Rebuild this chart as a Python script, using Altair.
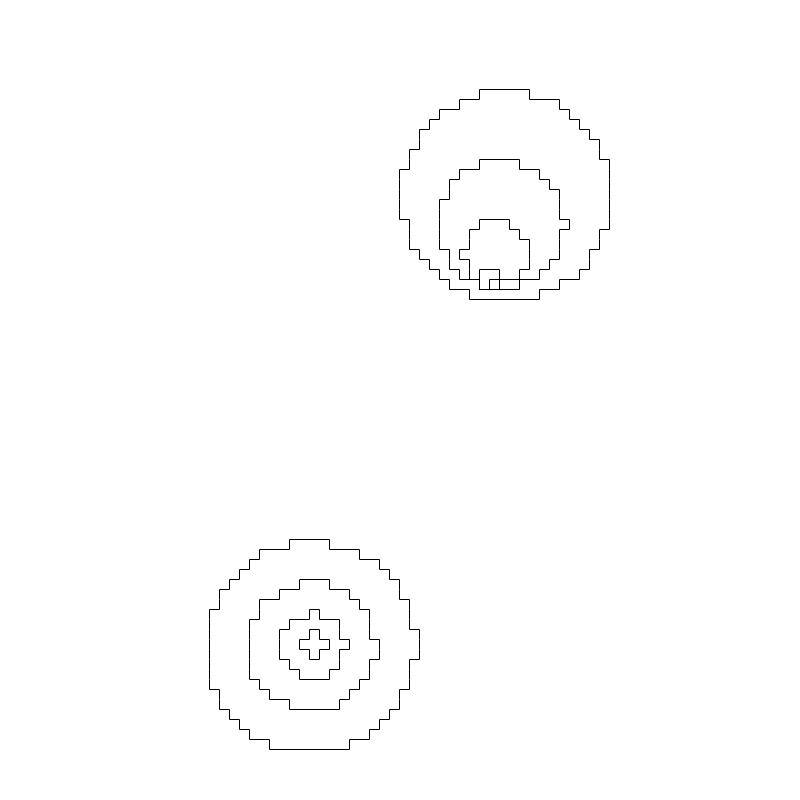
import altair as alt
import pandas as pd

# Contour regions on an 80 x 80 cell grid: for each contour, first row and
# the left / right cell edges of every row (rows run downward).
contour_names = ["top_1", "top_2", "top_3", "top_4",
                 "bottom_1", "bottom_2", "bottom_3", "bottom_4"]

top_1_row0 = 9
top_1_left = [48, 46, 44, 43, 42, 42, 41, 41, 40, 40, 40, 40, 40, 41, 41, 41, 42, 43, 44, 45, 47]
top_1_right = [53, 56, 57, 58, 59, 60, 60, 61, 61, 61, 61, 61, 61, 61, 60, 60, 59, 59, 58, 56, 54]

top_2_row0 = 16
top_2_left = [48, 46, 45, 45, 44, 44, 44, 44, 44, 45, 45, 46, 48]
top_2_right = [52, 54, 55, 56, 56, 56, 57, 56, 56, 56, 55, 54, 52]

top_3_row0 = 22
top_3_left = [48, 47, 47, 46, 47, 47, 48]
top_3_right = [51, 52, 53, 53, 53, 52, 49]

top_4_row0 = 27
top_4_left = [48, 48]
top_4_right = [50, 50]

bottom_1_row0 = 54
bottom_1_left = [29, 26, 25, 24, 23, 22, 22, 21, 21, 21, 21, 21, 21, 21, 21, 22, 22, 23, 24, 25, 27]
bottom_1_right = [33, 36, 38, 39, 40, 40, 41, 41, 41, 42, 42, 42, 41, 41, 41, 40, 40, 39, 38, 37, 35]

bottom_2_row0 = 58
bottom_2_left = [30, 28, 26, 26, 25, 25, 25, 25, 25, 25, 26, 27, 29]
bottom_2_right = [33, 35, 36, 37, 37, 37, 38, 38, 37, 37, 36, 35, 34]

bottom_3_row0 = 61
bottom_3_left = [31, 29, 28, 28, 28, 29, 30]
bottom_3_right = [32, 34, 34, 35, 34, 34, 33]

bottom_4_row0 = 63
bottom_4_left = [31, 30, 31]
bottom_4_right = [32, 33, 32]

contours = {
    "top_1": (top_1_row0, top_1_left, top_1_right),
    "top_2": (top_2_row0, top_2_left, top_2_right),
    "top_3": (top_3_row0, top_3_left, top_3_right),
    "top_4": (top_4_row0, top_4_left, top_4_right),
    "bottom_1": (bottom_1_row0, bottom_1_left, bottom_1_right),
    "bottom_2": (bottom_2_row0, bottom_2_left, bottom_2_right),
    "bottom_3": (bottom_3_row0, bottom_3_left, bottom_3_right),
    "bottom_4": (bottom_4_row0, bottom_4_left, bottom_4_right),
}


def outline(row0, left, right):
    """Trace the boundary of a row-convex block of grid cells."""
    n = len(left)
    pts = [(left[0], row0), (right[0], row0)]
    for i in range(n):
        pts.append((right[i], row0 + i + 1))
        if i + 1 < n:
            pts.append((right[i + 1], row0 + i + 1))
    for i in range(n - 1, -1, -1):
        pts.append((left[i], row0 + i + 1))
        pts.append((left[i], row0 + i))
        if i > 0:
            pts.append((left[i - 1], row0 + i))
    pts.append((left[0], row0))
    return pts


rows = []
for name in contour_names:
    row0, left, right = contours[name]
    for k, (x, y) in enumerate(outline(row0, left, right)):
        rows.append({"contour": name, "i": k, "x": x, "y": y})
df = pd.DataFrame(rows)

chart = (
    alt.Chart(df)
    .mark_line(color="black", strokeWidth=1, strokeJoin="miter")
    .encode(
        x=alt.X("x:Q", scale=alt.Scale(domain=[0.05, 80.05], nice=False, zero=False), axis=None),
        y=alt.Y("y:Q", scale=alt.Scale(domain=[0.05, 80.05], nice=False, zero=False, reverse=True), axis=None),
        detail="contour:N",
        order="i:Q",
    )
    .properties(width=800, height=800, padding=0, autosize="none", background="white")
    .configure_view(stroke=None)
)

chart.save("out.html", embed_options={"renderer": "svg", "actions": False})
